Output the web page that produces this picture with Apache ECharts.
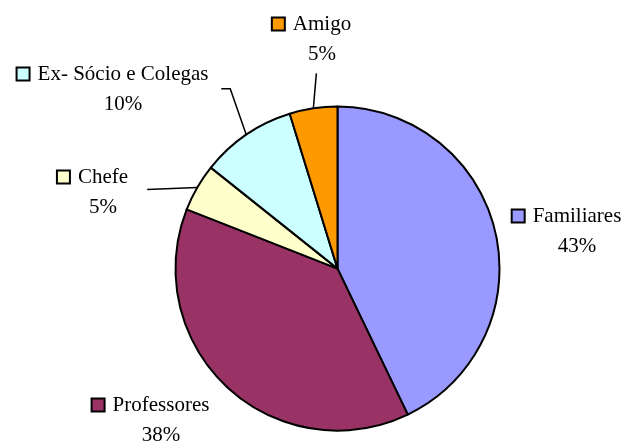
<!DOCTYPE html>
<html>
<head>
<meta charset="utf-8">
<script src="https://cdn.jsdelivr.net/npm/echarts@6/dist/echarts.min.js"></script>
<style>
html, body { margin: 0; padding: 0; background: #fff; }
#chart { width: 625px; height: 444px; }
</style>
</head>
<body>
<div id="chart"></div>
<script>
// dados
const categories = ['Familiares', 'Professores', 'Chefe', 'Ex- Sócio e Colegas', 'Amigo'];
const values = [9, 8, 1, 2, 1];
const colors = ['#9999FF', '#993366', '#FFFFCC', '#CCFFFF', '#FF9900'];

// posição dos rótulos (centro do bloco) e linhas guia relativas à borda da fatia
const labelPos = [[567, 231], [151, 420], [93, 192], [113, 89], [312, 39]];
const leaderOffsets = [null, null, [[-50, 2]], [[-16, -46], [-25, -46]], [[3, -35]]];

const FONT = 'Liberation Serif';

const richFor = (color) => ({
  sq: { width: 11, height: 11, backgroundColor: color, borderColor: '#000', borderWidth: 2, align: 'center' },
  gap: { width: 9, align: 'center' },
  sp: { width: 20, align: 'center' },
  n: { fontFamily: FONT, fontSize: 21, color: '#000', lineHeight: 30, align: 'center' },
  p: { fontFamily: FONT, fontSize: 21, color: '#000', lineHeight: 30, align: 'center' }
});

const pieData = categories.map((name, i) => ({
  name: name,
  value: values[i],
  itemStyle: { color: colors[i] },
  label: { rich: richFor(colors[i]) },
  labelLine: { show: !!leaderOffsets[i] }
}));

const chart = echarts.init(document.getElementById('chart'));
chart.setOption({
  backgroundColor: '#fff',
  animation: false,
  series: [
    {
      type: 'pie',
      center: ['54%', '60.5%'],
      radius: 162,
      startAngle: 90,
      clockwise: true,
      avoidLabelOverlap: false,
      data: pieData,
      itemStyle: { borderColor: '#000', borderWidth: 2 },
      label: {
        show: true,
        position: 'outside',
        fontFamily: FONT,
        fontSize: 21,
        color: '#000',
        lineHeight: 30,
        formatter: (p) => '{sq|}{gap|}{n|' + p.name + '}\n{sp|}{p|' + Math.round(p.percent) + '%}'
      },
      labelLine: {
        lineStyle: { color: '#000', width: 1.5 }
      },
      emphasis: { disabled: true },
      labelLayout: (params) => {
        const i = params.dataIndex;
        const out = {
          x: labelPos[i][0],
          y: labelPos[i][1],
          align: 'center',
          verticalAlign: 'middle'
        };
        const offs = leaderOffsets[i];
        if (offs && params.labelLinePoints) {
          const s = params.labelLinePoints[0];
          out.labelLinePoints = [[s[0], s[1]]].concat(offs.map(o => [s[0] + o[0], s[1] + o[1]]));
        }
        return out;
      }
    }
  ]
});
</script>
</body>
</html>
